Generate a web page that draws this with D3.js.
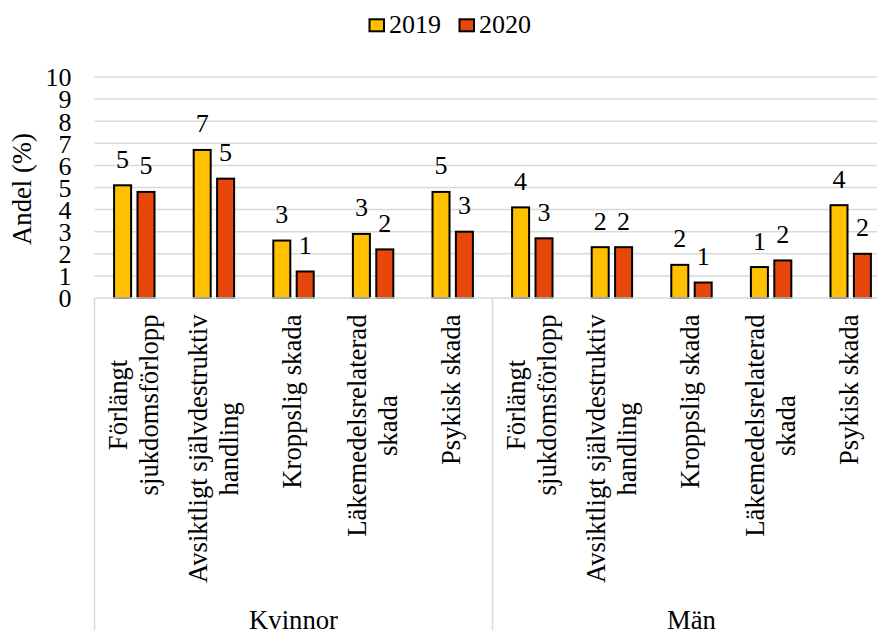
<!DOCTYPE html>
<html><head><meta charset="utf-8"><script src="https://cdn.jsdelivr.net/npm/d3@7"></script></head>
<body style="margin:0">
<svg id="chart" width="877" height="630"></svg>
<script>
// ---- Data ----
const groups = ["Kvinnor", "Män"];
const categories = [
  ["Förlängt", "sjukdomsförlopp"],
  ["Avsiktligt självdestruktiv", "handling"],
  ["Kroppslig skada"],
  ["Läkemedelsrelaterad", "skada"],
  ["Psykisk skada"]
];
const years = ["2019", "2020"];
const values2019 = [5.1, 6.7, 2.6, 2.9, 4.8, 4.1, 2.3, 1.5, 1.4, 4.2];
const values2020 = [4.8, 5.4, 1.2, 2.2, 3.0, 2.7, 2.3, 0.7, 1.7, 2.0];
const labels2019 = [5, 7, 3, 3, 5, 4, 2, 2, 1, 4];
const labels2020 = [5, 5, 1, 2, 3, 3, 2, 1, 2, 2];
const yTicks = [0, 1, 2, 3, 4, 5, 6, 7, 8, 9, 10];
const colors = { "2019": "#FFC000", "2020": "#E8470B" };

// ---- Layout ----
const svg = d3.select("#chart");
const left = 94.5, right = 890.5, y0 = 298, y10 = 77;
const FS = 26, FT = 26.7;

function txt(sel) { return sel.style("font-family", '"Liberation Serif"').attr("fill", "#000"); }

const keys = [];
groups.forEach(g => categories.forEach((c, i) => keys.push(g + "|" + i)));

const x0 = d3.scaleBand().domain(keys).range([left, right]).padding(0);
const bw = x0.bandwidth();
const x1 = d3.scaleBand().domain(years)
  .range([bw / 2 - 23.4, bw / 2 + 23.4])
  .paddingInner(0.273).paddingOuter(0.1365);
const y = d3.scaleLinear().domain([0, 10]).range([y0, y10]);

// Gridlines
svg.append("g").selectAll("line").data(yTicks.filter(t => t > 0)).join("line")
  .attr("x1", left).attr("x2", 877)
  .attr("y1", d => y(d)).attr("y2", d => y(d))
  .attr("stroke", "#d9d9d9").attr("stroke-width", 1.5);

// Y axis tick labels (drawn from the axis generator's scale)
const yAxis = d3.axisLeft(y).tickValues(yTicks).tickSize(0).tickPadding(0).tickFormat(d3.format("d"));
const yg = svg.append("g").attr("transform", `translate(71.5,0)`).call(yAxis);
yg.select(".domain").remove();
yg.attr("font-family", null).attr("font-size", null);
txt(yg.selectAll("text")).attr("font-size", FS).attr("dy", "0.34em");

// Y axis title
txt(svg.append("text"))
  .attr("transform", `translate(31,189) rotate(-90)`)
  .attr("text-anchor", "middle")
  .attr("font-size", FT)
  .text("Andel (%)");

// Bars
const rows = keys.map((k, i) => ({ key: k, "2019": values2019[i], "2020": values2020[i],
  l2019: labels2019[i], l2020: labels2020[i] }));

const cat = svg.append("g").selectAll("g").data(rows).join("g")
  .attr("transform", d => `translate(${x0(d.key)},0)`);

cat.selectAll("rect").data(d => years.map(yr => ({ yr, v: d[yr] }))).join("rect")
  .attr("x", d => x1(d.yr))
  .attr("width", x1.bandwidth())
  .attr("y", d => y(d.v))
  .attr("height", d => y(0) - y(d.v))
  .attr("fill", d => colors[d.yr])
  .attr("stroke", "#000").attr("stroke-width", 2);

txt(cat.selectAll("text.lbl").data(d => years.map(yr => ({ yr, v: d[yr], l: d["l" + yr] }))).join("text"))
  .attr("class", "lbl")
  .attr("x", d => x1(d.yr) + x1.bandwidth() / 2)
  .attr("y", d => y(d.v) - 17.5)
  .attr("text-anchor", "middle")
  .attr("font-size", FS)
  .text(d => d.l);

// Category axis lines
const axisG = svg.append("g");
axisG.append("line").attr("x1", left).attr("x2", 877).attr("y1", y0).attr("y2", y0)
  .attr("stroke", "#d9d9d9").attr("stroke-width", 1.5);
[left, x0(groups[1] + "|0")].forEach(xv => {
  axisG.append("line").attr("x1", xv).attr("x2", xv).attr("y1", y0).attr("y2", 630)
    .attr("stroke", "#d9d9d9").attr("stroke-width", 1.5);
});

// Category labels (rotated)
const topY = 314.5;
keys.forEach((k, i) => {
  const ci = i % categories.length;
  const lines = categories[ci];
  const cx = x0(k) + bw / 2;
  const g = svg.append("g");
  const texts = lines.map((ln, j) => {
    const off = lines.length === 1 ? 7 : 8.5 + (j === 0 ? -15.5 : 15.5);
    return txt(g.append("text"))
      .attr("transform", `translate(${cx + off},0) rotate(-90)`)
      .attr("font-size", FT)
      .attr("text-anchor", "middle")
      .text(ln);
  });
  const maxW = d3.max(texts, t => t.node().getComputedTextLength());
  texts.forEach(t => t.attr("x", -(topY + maxW / 2)));
});

// Group labels
groups.forEach(g => {
  const first = x0(g + "|0");
  const last = x0(g + "|" + (categories.length - 1)) + bw;
  txt(svg.append("text"))
    .attr("x", (first + last) / 2)
    .attr("y", 629)
    .attr("text-anchor", "middle")
    .attr("font-size", FT)
    .text(g);
});

// Legend
const legend = svg.append("g");
[{ yr: "2019", x: 369.5 }, { yr: "2020", x: 459.5 }].forEach(it => {
  legend.append("rect")
    .attr("x", it.x).attr("y", 19.3).attr("width", 14.5).attr("height", 12)
    .attr("fill", colors[it.yr]).attr("stroke", "#000").attr("stroke-width", 2);
  txt(legend.append("text"))
    .attr("x", it.x + 19.5).attr("y", 33)
    .attr("font-size", FS)
    .text(it.yr);
});
</script>
</body></html>
